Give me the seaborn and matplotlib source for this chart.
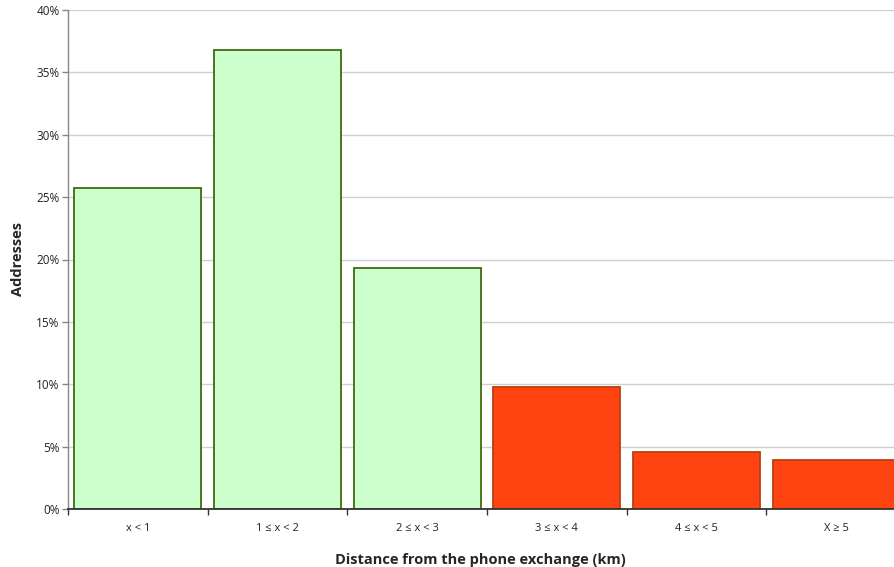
import matplotlib
matplotlib.use("Agg")
import matplotlib.pyplot as plt
from matplotlib.ticker import FixedLocator, PercentFormatter
import seaborn as sns
import pandas as pd

# Share of addresses per distance band
categories = ["x < 1", "1 ≤ x < 2", "2 ≤ x < 3", "3 ≤ x < 4", "4 ≤ x < 5", "X ≥ 5"]
shares = [25.7, 36.8, 19.3, 9.8, 4.55, 3.95]
fill_colors = ["#CCFFCC", "#CCFFCC", "#CCFFCC", "#FF4411", "#FF4411", "#FF4411"]
edge_colors = ["#3F6B10", "#3F6B10", "#3F6B10", "#B8400F", "#B8400F", "#B8400F"]

df = pd.DataFrame({"band": categories, "share": shares})

sns.set_theme(style="white")
plt.rcParams["font.family"] = ["Open Sans", "DejaVu Sans"]

fig = plt.figure(figsize=(8.95, 5.67), dpi=100)
ax = fig.add_axes([68 / 895, 1 - 509 / 567, 838 / 895, 499 / 567])

sns.barplot(data=df, x="band", y="share", hue="band", palette=fill_colors,
            saturation=1, legend=False, width=0.91, ax=ax, zorder=3)
for patch, ec in zip(ax.patches, edge_colors):
    patch.set_edgecolor(ec)
    patch.set_linewidth(1.3)

ax.set_xlim(-0.5, len(categories) - 0.5)
ax.set_ylim(0, 40)
ax.yaxis.set_major_locator(FixedLocator(range(0, 41, 5)))
ax.yaxis.set_major_formatter(PercentFormatter(decimals=0))
ax.grid(axis="y", color="#CFCFCF", linewidth=1, zorder=0)

# category labels centred, tick marks at the band boundaries
ax.xaxis.set_minor_locator(FixedLocator([i - 0.5 for i in range(len(categories) + 1)]))
ax.tick_params(axis="x", which="major", length=0, pad=10, labelsize=8, colors="#222222")
ax.tick_params(axis="x", which="minor", bottom=True, length=4, width=1, color="#333333")
ax.tick_params(axis="y", which="major", left=True, length=4, width=1, color="#888888",
               labelsize=8.5, colors="#222222", pad=2)

for side in ["top", "right"]:
    ax.spines[side].set_visible(False)
ax.spines["left"].set_color("#888888")
ax.spines["left"].set_linewidth(1)
ax.spines["bottom"].set_color("#333333")
ax.spines["bottom"].set_linewidth(1.3)
ax.spines["bottom"].set_zorder(4)

ax.set_xlabel("Distance from the phone exchange (km)", fontsize=10.5, fontweight="bold",
              labelpad=12)
ax.set_ylabel("Addresses", fontsize=10.5, fontweight="bold", labelpad=8)
ax.xaxis.set_label_coords((480 - 68) / 838, -(553 - 509) / 499)

fig.savefig("out.png", dpi=100)
